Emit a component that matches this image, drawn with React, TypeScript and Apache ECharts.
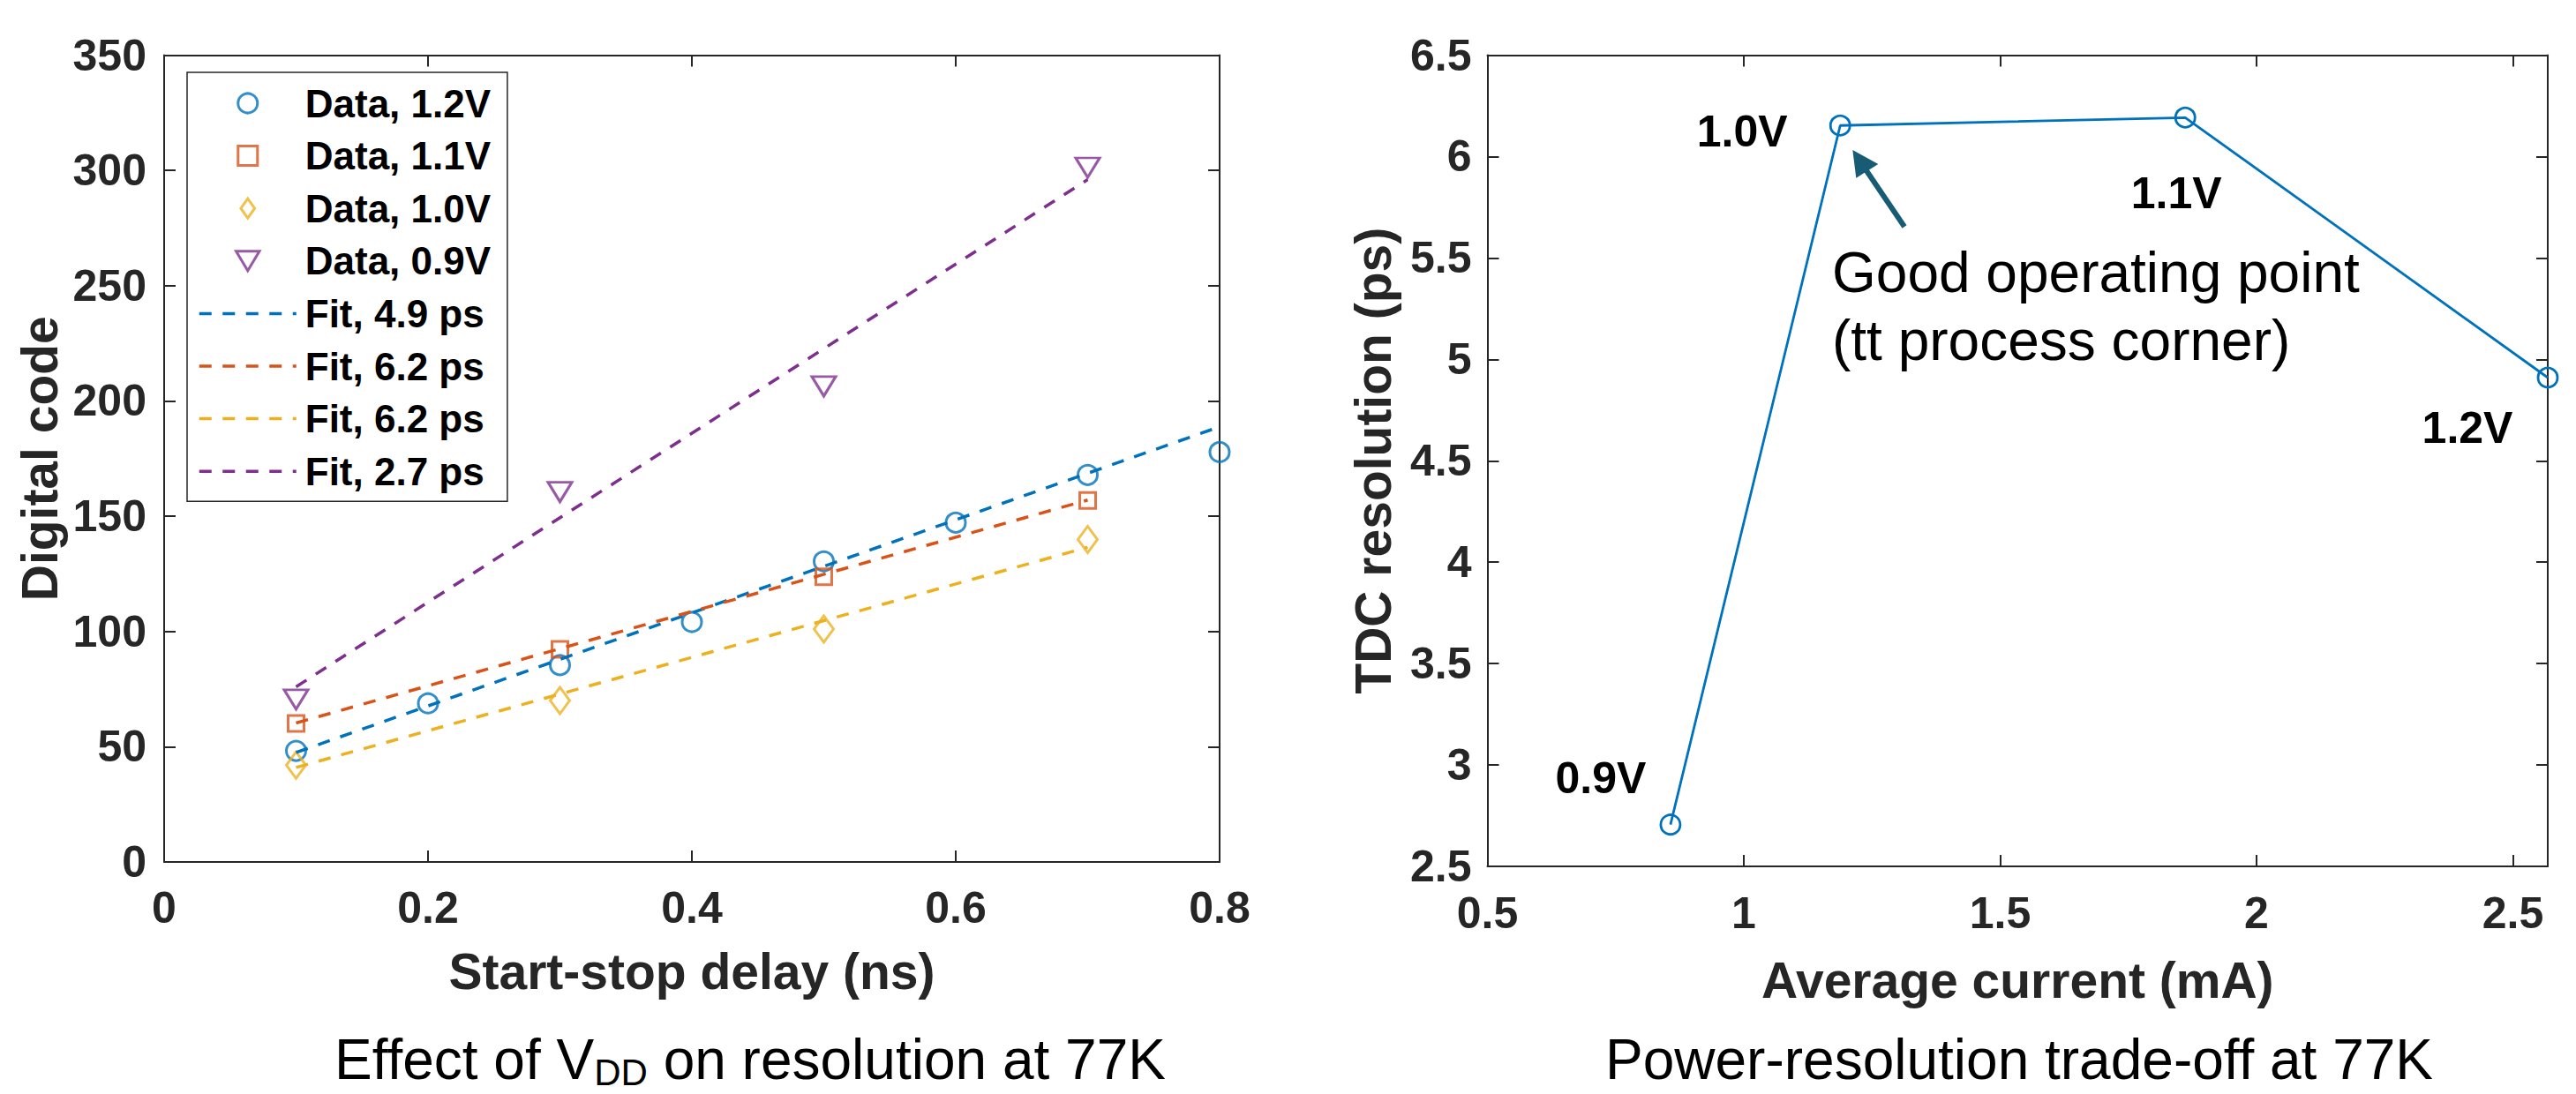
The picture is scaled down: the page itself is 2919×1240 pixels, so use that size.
import React, { useEffect, useRef } from "react";
import * as echarts from "echarts";

// ---------- Left panel data ----------
const delay12 = [0.1, 0.2, 0.3, 0.4, 0.5, 0.6, 0.7, 0.8];
const code12 = [48.2, 68.8, 85.4, 104.1, 130.4, 147.2, 167.9, 177.8];
const delayOther = [0.1, 0.3, 0.5, 0.7];
const code11 = [60.1, 92.2, 123.7, 156.8];
const code10 = [42.0, 70.0, 101.0, 139.9];
const code09 = [70.5, 160.5, 206.3, 301.2];

const fit12X = [0.1, 0.8];
const fit12Y = [47.5, 188.8];
const fit11X = [0.1, 0.7];
const fit11Y = [60.3, 157.0];
const fit10X = [0.1, 0.7];
const fit10Y = [41.0, 136.5];
const fit09X = [0.1, 0.7];
const fit09Y = [76.0, 296.0];

const dataNames = ["Data, 1.2V", "Data, 1.1V", "Data, 1.0V", "Data, 0.9V"];
const fitNames = ["Fit, 4.9 ps", "Fit, 6.2 ps", "Fit, 6.2 ps ", "Fit, 2.7 ps"];

// ---------- Right panel data ----------
const currentMA = [0.857, 1.188, 1.861, 2.568];
const resolutionPs = [2.706, 6.153, 6.192, 4.91];
const voltLabels = ["0.9V", "1.0V", "1.1V", "1.2V"];

// ---------- Axis ticks ----------
const leftX = { min: 0, max: 0.8, interval: 0.2 };
const leftY = { min: 0, max: 350, interval: 50 };
const rightX = { min: 0.5, max: 2.568, interval: 0.5 };
const rightY = { min: 2.5, max: 6.5, interval: 0.5 };

// ---------- Texts ----------
const captionLeftParts = ["Effect of V", "DD", " on resolution at 77K"];
const captionRight = "Power-resolution trade-off at 77K";
const annotation = "Good operating point\n(tt process corner)";

const FONT = '"Liberation Sans", Arial, Helvetica, sans-serif';
const AX = "#262626";
const BLUE = "#0072BD";
const ORANGE = "#D95319";
const YELLOW = "#EDB120";
const PURPLE = "#7E2F8E";
const CLEAR = "rgba(0,0,0,0)";

const zip = (xs: number[], ys: number[]) => xs.map((x, i) => [x, ys[i]]);

function axis(opts: any, showLabel: boolean, extra: any = {}, labelExtra: any = {}) {
  return {
    type: "value",
    min: opts.min,
    max: opts.max,
    interval: opts.interval,
    splitLine: { show: false },
    axisLine: { show: true, onZero: false, lineStyle: { color: AX, width: 2 } },
    axisTick: { show: true, inside: true, length: 13, lineStyle: { color: AX, width: 2 } },
    axisLabel: {
      show: showLabel,
      fontFamily: FONT,
      fontSize: 50,
      fontWeight: "bold",
      color: AX,
      formatter: (v: number) => {
        const k = (v - opts.min) / opts.interval;
        return Math.abs(k - Math.round(k)) < 1e-6 ? String(+v.toFixed(3)) : "";
      },
      ...labelExtra,
    },
    ...extra,
  };
}

const nameStyle = { fontFamily: FONT, fontSize: 57, fontWeight: "bold", color: AX };

function measure(text: string, size: number) {
  const c = document.createElement("canvas").getContext("2d");
  if (!c) return text.length * size * 0.5;
  c.font = `${size}px "Liberation Sans", Arial, sans-serif`;
  return c.measureText(text).width;
}

export default function App() {
  const ref = useRef<HTMLDivElement>(null);

  useEffect(() => {
    if (!ref.current) return;
    const chart = echarts.init(ref.current, null, { renderer: "svg" });

    const hollow = (c: string) => ({ color: CLEAR, borderColor: c, borderWidth: 3 });
    const dash = (c: string) => ({ color: c, width: 3.5, type: [14, 12.5] });
    const fitSeries = (name: string, xs: number[], ys: number[], c: string) => ({
      name,
      type: "line",
      xAxisIndex: 0,
      yAxisIndex: 0,
      symbol: "none",
      data: zip(xs, ys),
      lineStyle: dash(c),
      itemStyle: { color: CLEAR, borderColor: CLEAR, borderWidth: 0 },
    });

    // caption with subscript, laid out from measured widths
    const mainSize = 64;
    const subSize = 42;
    const w1 = measure(captionLeftParts[0], mainSize);
    const w2 = measure(captionLeftParts[1], subSize);
    const w3 = measure(captionLeftParts[2], mainSize);
    const capX0 = 850 - (w1 + w2 + w3) / 2;
    const mainY = 1201;
    const subY = 1215;

    const option: any = {
      animation: false,
      backgroundColor: "#ffffff",
      textStyle: { fontFamily: FONT },
      grid: [
        { left: 186, top: 62.5, width: 1196, height: 914.5, containLabel: false },
        { left: 1685.5, top: 62.5, width: 1201.5, height: 919.5, containLabel: false },
      ],
      xAxis: [
        axis(leftX, true, {
          gridIndex: 0,
          position: "bottom",
          name: "Start-stop delay (ns)",
          nameLocation: "middle",
          nameGap: 95,
          nameTextStyle: nameStyle,
        }, { margin: 27 }),
        axis(leftX, false, { gridIndex: 0, position: "top" }),
        axis(rightX, true, {
          gridIndex: 1,
          position: "bottom",
          name: "Average current (mA)",
          nameLocation: "middle",
          nameGap: 100,
          nameTextStyle: nameStyle,
        }, { margin: 28, showMaxLabel: false }),
        axis(rightX, false, { gridIndex: 1, position: "top" }),
      ],
      yAxis: [
        axis(leftY, true, {
          gridIndex: 0,
          position: "left",
          name: "Digital code",
          nameLocation: "middle",
          nameGap: 113,
          nameTextStyle: nameStyle,
        }, { margin: 20 }),
        axis(leftY, false, { gridIndex: 0, position: "right" }),
        axis(rightY, true, {
          gridIndex: 1,
          position: "left",
          name: "TDC resolution (ps)",
          nameLocation: "middle",
          nameGap: 101,
          nameTextStyle: nameStyle,
        }, { margin: 18 }),
        axis(rightY, false, { gridIndex: 1, position: "right" }),
      ],
      legend: {
        orient: "vertical",
        left: 212,
        top: 82,
        padding: [10, 14, 9, 12],
        backgroundColor: "#ffffff",
        borderColor: AX,
        borderWidth: 1.5,
        itemWidth: 110,
        itemHeight: 22,
        itemGap: 9.6,
        selectedMode: false,
        data: [
          ...dataNames,
          ...fitNames.map((n) => ({ name: n, itemStyle: { color: CLEAR, borderColor: CLEAR, borderWidth: 0 } })),
        ],
        textStyle: {
          fontFamily: FONT,
          fontSize: 44,
          fontWeight: "bold",
          color: "#000",
          lineHeight: 50,
          padding: [0, 0, 0, 5],
        },
        lineStyle: { width: 3.5 },
        itemStyle: { borderWidth: 3 },
      },
      series: [
        fitSeries(fitNames[0], fit12X, fit12Y, BLUE),
        fitSeries(fitNames[1], fit11X, fit11Y, ORANGE),
        fitSeries(fitNames[2], fit10X, fit10Y, YELLOW),
        fitSeries(fitNames[3], fit09X, fit09Y, PURPLE),
        {
          name: dataNames[0], type: "scatter", xAxisIndex: 0, yAxisIndex: 0,
          symbol: "circle", symbolSize: 22, data: zip(delay12, code12), itemStyle: hollow(BLUE),
        },
        {
          name: dataNames[1], type: "scatter", xAxisIndex: 0, yAxisIndex: 0,
          symbol: "path://M0,0L10,0L10,10L0,10Z", symbolSize: 18,
          data: zip(delayOther, code11), itemStyle: hollow(ORANGE),
        },
        {
          name: dataNames[2], type: "scatter", xAxisIndex: 0, yAxisIndex: 0,
          symbol: "path://M5,0L10,7L5,14L0,7Z", symbolSize: [22, 30], symbolKeepAspect: false,
          data: zip(delayOther, code10), itemStyle: hollow(YELLOW),
        },
        {
          name: dataNames[3], type: "scatter", xAxisIndex: 0, yAxisIndex: 0,
          symbol: "path://M0,0L12,0L6,10Z", symbolSize: [27, 22], symbolKeepAspect: false,
          data: zip(delayOther, code09), itemStyle: hollow(PURPLE),
        },
        {
          name: "TDC resolution", type: "line", xAxisIndex: 2, yAxisIndex: 2,
          symbol: "circle", symbolSize: 22, showAllSymbol: true,
          lineStyle: { color: BLUE, width: 2.8 },
          itemStyle: { color: CLEAR, borderColor: BLUE, borderWidth: 2.8 },
          label: {
            show: true,
            position: "inside",
            fontFamily: FONT,
            fontSize: 50,
            fontWeight: "bold",
            color: "#000",
          },
          data: currentMA.map((x, i) => {
            const offsets = [[-79, -53], [-111, 7], [-10, 86], [-91, 57]];
            return {
              value: [x, resolutionPs[i]],
              label: { formatter: voltLabels[i], offset: offsets[i] },
            };
          }),
        },
      ],
      graphic: [
        {
          type: "text",
          x: capX0,
          y: mainY,
          style: {
            text: captionLeftParts[0], align: "left", verticalAlign: "middle",
            fontFamily: FONT, fontSize: mainSize, fill: "#000",
          },
        },
        {
          type: "text",
          x: capX0 + w1,
          y: subY,
          style: {
            text: captionLeftParts[1], align: "left", verticalAlign: "middle",
            fontFamily: FONT, fontSize: subSize, fill: "#000",
          },
        },
        {
          type: "text",
          x: capX0 + w1 + w2,
          y: mainY,
          style: {
            text: captionLeftParts[2], align: "left", verticalAlign: "middle",
            fontFamily: FONT, fontSize: mainSize, fill: "#000",
          },
        },
        {
          type: "text",
          x: 2288,
          y: mainY,
          style: {
            text: captionRight, align: "center", verticalAlign: "middle",
            fontFamily: FONT, fontSize: mainSize, fill: "#000",
          },
        },
        {
          type: "text",
          x: 2076,
          y: 270,
          style: {
            text: annotation, align: "left", verticalAlign: "top",
            fontFamily: FONT, fontSize: 64, lineHeight: 77, fill: "#000",
          },
        },
        {
          type: "line",
          shape: { x1: 2158, y1: 257, x2: 2114, y2: 192 },
          style: { stroke: "#185B74", lineWidth: 6 },
        },
        {
          type: "polygon",
          shape: { points: [[2099.3, 170], [2128.3, 186], [2103.3, 201.7]] },
          style: { fill: "#185B74" },
        },
      ],
    };

    chart.setOption(option);
    return () => chart.dispose();
  }, []);

  return (
    <div
      ref={ref}
      style={{ position: "fixed", left: 0, top: 0, width: 2919, height: 1240, background: "#fff" }}
    />
  );
}
